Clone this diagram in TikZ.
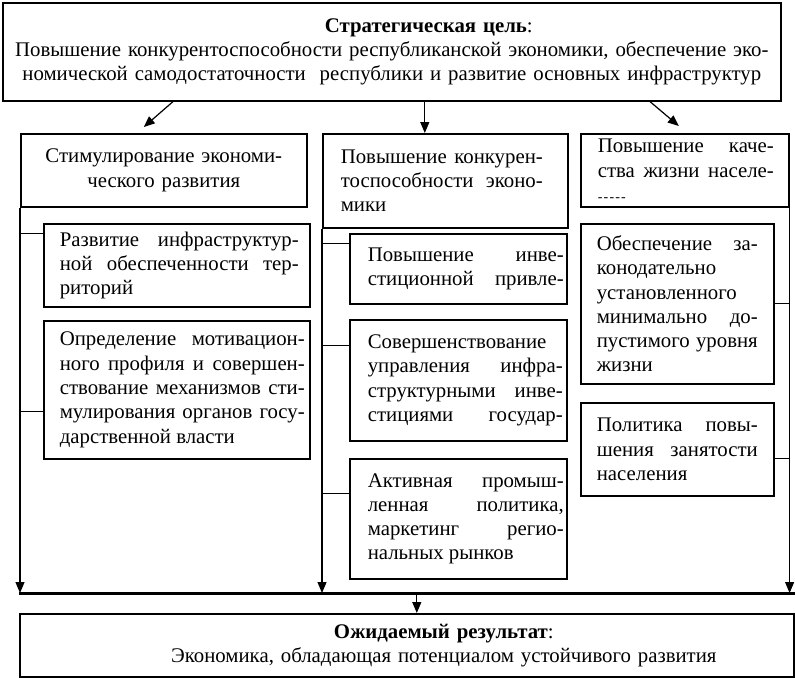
\documentclass[tikz,border=0pt]{standalone}
\usepackage{fontspec}
\setmainfont{Liberation Serif}
\usetikzlibrary{arrows.meta}
\newcommand\fs{\fontsize{20.8}{24.3}\selectfont\tolerance=10000\hyphenpenalty=10000\exhyphenpenalty=10000\relax}
\newcommand\jb[4]{\hspace*{#1pt}\parbox{#2pt}{#4}\hspace*{#3pt}}
\newcommand\cutline{{\fontsize{14}{14}\selectfont -\kern1.2pt-\kern1.2pt-\kern1.2pt-\kern1.2pt-}}
\tikzset{
  box/.style={draw, line width=1.6pt, inner sep=0pt, anchor=north west, font=\fs},
  conn/.style={line width=1.2pt},
  arr/.style={conn, -{Triangle[length=11pt,width=9pt]}},
  bar/.style={line width=3pt},
}
\begin{document}
\begin{tikzpicture}[x=1pt,y=-1pt]
\useasboundingbox (0,0) rectangle (795,678);
% goal
\node[box, minimum height=98pt, text width=778pt, align=center] (goal) at (2,2)
 {\hspace*{74pt}\textbf{Стратегическая цель}:\\Повышение конкурентоспособности республиканской экономики, обеспечение эко-\\номической самодостаточности\ \ республики и развитие основных инфраструктур};
% columns
\node[box, minimum height=73pt, text width=286pt, align=center] (c1) at (20,133)
 {Стимулирование экономи-\\ческого развития};
\node[box, minimum height=94pt] (c2) at (322,133)
 {\jb{18}{202}{25}{Повышение конкурен-\linebreak тоспособности эконо-\linebreak мики}};
\node[box, minimum height=73pt] (c3) at (580,133)
 {\jb{17}{176}{15}{Повышение каче-\linebreak ства жизни населе-\linebreak \cutline}};
% left sub-boxes
\node[box, minimum height=83pt] (l1) at (43,223)
 {\jb{16}{239}{11}{Развитие инфраструктур-\linebreak ной обеспеченности тер-\linebreak риторий}};
\node[box, minimum height=138pt] (l2) at (43,320)
 {\jb{16}{245}{5}{Определение мотивацион-\linebreak ного профиля и совершен-\linebreak ствование механизмов сти-\linebreak мулирования органов госу-\linebreak дарственной власти}};
% middle sub-boxes
\node[box, minimum height=70pt] (m1) at (349,233)
 {\jb{18}{196}{3}{\parfillskip=0pt Повышение инве-\linebreak стиционной привле-}};
\node[box, minimum height=121pt] (m2) at (349,319)
 {\jb{18}{195}{4}{\parfillskip=0pt Совершенствование\linebreak управления инфра-\linebreak структурными инве-\linebreak стициями государ-}};
\node[box, minimum height=120pt] (m3) at (349,458)
 {\jb{18}{196}{3}{Активная промыш-\linebreak ленная политика,\linebreak маркетинг регио-\linebreak нальных рынков}};
% right sub-boxes
\node[box, minimum height=160pt] (r1) at (580,223)
 {\jb{16}{161}{16}{Обеспечение за-\linebreak конодательно\linebreak установленного\linebreak минимально до-\linebreak пустимого уровня\linebreak жизни}};
\node[box, minimum height=93pt] (r2) at (580,402)
 {\jb{16}{161}{16}{Политика повы-\linebreak шения занятости\linebreak населения}};
% result
\node[box, minimum height=63pt, text width=774pt, align=center] (res) at (19,613)
 {\hspace*{74pt}\textbf{Ожидаемый результат}:\\\hspace*{74pt}Экономика, обладающая потенциалом устойчивого развития};
% bar
\coordinate (barL) at (19,593);
\coordinate (barR) at (795,593);
\draw[bar] (barL) -- (barR);
% arrows from goal
\draw[arr] ([xshift=171pt]goal.south west) -- ([xshift=-20pt,yshift=6pt]c1.north);
\draw[arr] ([xshift=-20.5pt]c2.north |- goal.south) -- ([xshift=-20.5pt]c2.north);
\draw[arr] ([xshift=648pt]goal.south west) -- ([xshift=-6pt,yshift=7pt]c3.north);
% spines
\draw[arr] (c1.south west) -- (c1.south west |- barL);
\draw[arr] (c2.south west) -- (c2.south west |- barL);
\draw[arr] (c3.south east) -- (c3.south east |- barL);
% branches
\draw[conn] ([yshift=31.5pt]l1.west) -- ([yshift=31.5pt]l1.west -| c1.west);
\draw[conn] ([yshift=-22pt]l2.west) -- ([yshift=-22pt]l2.west -| c1.west);
\draw[conn] ([yshift=25pt]m1.west) -- ([yshift=25pt]m1.west -| c2.west);
\draw[conn] ([yshift=34.5pt]m2.west) -- ([yshift=34.5pt]m2.west -| c2.west);
\draw[conn] ([yshift=25pt]m3.west) -- ([yshift=25pt]m3.west -| c2.west);
\draw[conn] (r1.east) -- (r1.east -| c3.east);
\draw[conn] ([yshift=-9.5pt]r2.east) -- ([yshift=-9.5pt]r2.east -| c3.east);
% result arrow
\draw[arr] ([xshift=10pt]res.north |- barL) -- ([xshift=10pt]res.north);
\end{tikzpicture}
\end{document}
